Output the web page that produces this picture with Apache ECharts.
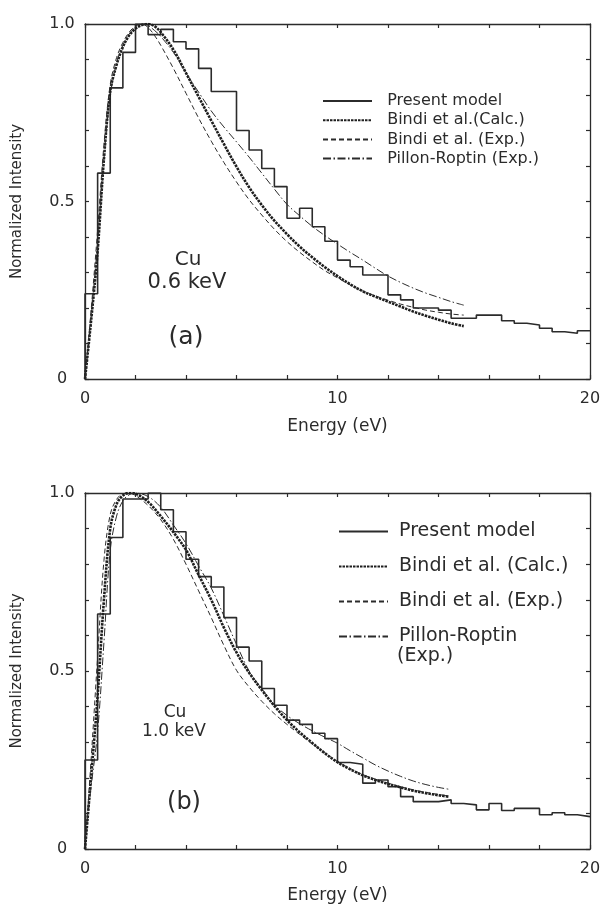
<!DOCTYPE html>
<html><head><meta charset="utf-8">
<script src="https://cdn.jsdelivr.net/npm/echarts@6/dist/echarts.min.js"></script>
<style>html,body{margin:0;background:#fff}#c{width:608px;height:906px}</style>
</head><body><div id="c"></div>
<script>
// ---------- data ----------
const histEdges = [0,0.5,1,1.5,2,2.5,3,3.5,4,4.5,5,5.5,6,6.5,7,7.5,8,8.5,9,9.5,10,10.5,11,11.5,12,12.5,13,13.5,14,14.5,15,15.5,16,16.5,17,17.5,18,18.5,19,19.5,20];
const topHist = [0.24,0.58,0.82,0.92,1.0,0.97,0.985,0.95,0.93,0.875,0.81,0.81,0.70,0.645,0.593,0.542,0.453,0.481,0.429,0.388,0.335,0.316,0.293,0.293,0.237,0.223,0.20,0.20,0.194,0.171,0.171,0.18,0.18,0.164,0.157,0.152,0.143,0.133,0.129,0.136];
const botHist = [0.25,0.66,0.875,0.983,0.983,1.0,0.953,0.891,0.814,0.765,0.736,0.65,0.567,0.528,0.451,0.404,0.362,0.35,0.325,0.31,0.243,0.238,0.185,0.194,0.175,0.147,0.133,0.133,0.138,0.128,0.124,0.11,0.128,0.108,0.114,0.114,0.096,0.102,0.096,0.091];

const topE = [0,0.25,0.5,0.75,1,1.25,1.5,1.75,2,2.25,2.5,2.75,3,3.5,4,4.5,5,5.5,6,6.5,7,7.5,8,8.5,9,9.5,10,10.5,11,11.5,12,12.5,13,13.5,14,14.5,15];
const topCalc = [0,0.17,0.36,0.62,0.81,0.885,0.935,0.968,0.987,0.997,1.0,0.994,0.977,0.928,0.862,0.795,0.728,0.662,0.598,0.54,0.49,0.446,0.408,0.373,0.343,0.315,0.29,0.267,0.247,0.232,0.218,0.204,0.19,0.178,0.167,0.157,0.149];
const topExp = [0,0.2,0.42,0.66,0.83,0.905,0.948,0.977,0.994,1.0,0.99,0.968,0.94,0.875,0.805,0.735,0.67,0.61,0.555,0.505,0.462,0.422,0.387,0.357,0.33,0.305,0.285,0.265,0.248,0.234,0.222,0.211,0.202,0.194,0.188,0.183,0.18];
const topPillon = [0,0.18,0.38,0.62,0.8,0.89,0.94,0.972,0.99,1.0,0.995,0.982,0.965,0.92,0.862,0.808,0.755,0.71,0.668,0.625,0.58,0.535,0.492,0.46,0.43,0.404,0.38,0.357,0.335,0.312,0.29,0.272,0.256,0.242,0.23,0.218,0.208];

const botE = [0,0.25,0.5,0.75,1,1.25,1.5,1.75,2,2.5,3,3.5,4,4.5,5,5.5,6,6.5,7,7.5,8,8.5,9,9.5,10,10.5,11,11.5,12,12.5,13,13.5,14,14.4];
const botCalc = [0,0.21,0.43,0.7,0.9,0.968,0.993,1.0,0.998,0.975,0.935,0.89,0.84,0.77,0.70,0.622,0.552,0.495,0.447,0.402,0.362,0.328,0.298,0.269,0.244,0.224,0.207,0.194,0.183,0.173,0.164,0.157,0.151,0.147];
const botExp = [0,0.26,0.54,0.81,0.94,0.982,0.998,1.0,0.993,0.965,0.925,0.87,0.80,0.725,0.65,0.572,0.502,0.455,0.415,0.38,0.35,0.322,0.295,0.27,0.246,0.226,0.209,0.196,0.185,0.175,0.166,0.159,0.153,0.149];
const botPillon = [0.03,0.18,0.33,0.58,0.84,0.935,0.978,0.995,1.0,0.99,0.96,0.91,0.858,0.795,0.733,0.655,0.575,0.50,0.45,0.405,0.375,0.352,0.332,0.314,0.297,0.276,0.256,0.236,0.219,0.204,0.191,0.181,0.173,0.168];

const xTicks = [0,10,20];
const yTicks = {0:'0',0.5:'0.5',1:'1.0'};

const topNames = ['Present model','Bindi et al.(Calc.)','Bindi et al. (Exp.)','Pillon-Roptin (Exp.)'];
const botNames = ['Present model','Bindi et al. (Calc.)','Bindi et al. (Exp.)','Pillon-Roptin'];

// ---------- styling ----------
const FONT = 'DejaVu Sans';
const INK = '#2b2b2b';

function histData(vals){
  const d = [[histEdges[0],0]];
  vals.forEach((v,i)=>d.push([histEdges[i],v]));
  d.push([histEdges[histEdges.length-1], vals[vals.length-1]]);
  return d;
}
function pairs(xs, ys){ return xs.map((x,i)=>[x,ys[i]]); }

function xAxes(g, gap){
  const base = {gridIndex:g, type:'value', min:0, max:20, interval:2,
    axisLine:{onZero:false, lineStyle:{color:INK,width:1.3}},
    axisTick:{inside:true,length:4,lineStyle:{color:INK,width:1.2}},
    splitLine:{show:false}};
  return [
    Object.assign({}, base, {position:'bottom',
      axisLabel:{formatter:v=>xTicks.includes(v)?String(v):'', color:INK, fontFamily:FONT, fontSize:16, margin:12, showMinLabel:true, showMaxLabel:true},
      name:'Energy (eV)', nameLocation:'middle', nameGap:gap,
      nameTextStyle:{color:INK, fontFamily:FONT, fontSize:17}}),
    Object.assign({}, base, {position:'top', axisLabel:{show:false}})
  ];
}
function yLabel(v){
  for (const k in yTicks){ if (Math.abs(v-Number(k))<1e-6) return yTicks[k]; }
  return '';
}
function yAxes(g){
  const base = {gridIndex:g, type:'value', min:0, max:1, interval:0.1,
    axisLine:{show:true,onZero:false, lineStyle:{color:INK,width:1.3}},
    axisTick:{show:true,inside:true,length:4,lineStyle:{color:INK,width:1.2}},
    splitLine:{show:false}};
  return [
    Object.assign({}, base, {position:'left',
      axisLabel:{formatter:yLabel, color:INK, fontFamily:FONT, fontSize:16, margin:23, align:'center', showMinLabel:true, showMaxLabel:true},
      name:'Normalized Intensity', nameLocation:'middle', nameGap:60,
      nameTextStyle:{color:INK, fontFamily:FONT, fontSize:15}}),
    Object.assign({}, base, {position:'right', axisLabel:{show:false}})
  ];
}

function panelSeries(g, names, hist, E, calc, exp, pil){
  const common = {type:'line', xAxisIndex:g*2, yAxisIndex:g*2, symbol:'none', showSymbol:false,
    silent:true, animation:false, emphasis:{disabled:true}};
  return [
    Object.assign({}, common, {name:names[0], step:'end', data:histData(hist),
      lineStyle:{color:INK,width:1.6}, itemStyle:{color:INK}}),
    Object.assign({}, common, {name:names[1], smooth:0.35, data:pairs(E,calc),
      lineStyle:{color:'#1e1e1e',width:2.6,type:[2.5,1]}, itemStyle:{color:'#1e1e1e'}}),
    Object.assign({}, common, {name:names[2], smooth:0.35, data:pairs(E,exp),
      lineStyle:{color:INK,width:1,type:[5,3]}, itemStyle:{color:INK}}),
    Object.assign({}, common, {name:names[3], smooth:0.35, data:pairs(E,pil),
      lineStyle:{color:INK,width:1,type:[8,2.5,1.5,2.5]}, itemStyle:{color:INK}})
  ];
}

const txt = (x,y,t,size)=>({type:'text', x:x, y:y, silent:true,
  style:{text:t, fill:INK, font:size+'px "'+FONT+'"', textAlign:'center', textVerticalAlign:'middle'}});

const chart = echarts.init(document.getElementById('c'), null, {renderer:'canvas'});
chart.setOption({
  backgroundColor:'#ffffff',
  animation:false,
  grid:[
    {left:85, top:24, width:505, height:355},
    {left:85, top:493, width:505, height:356}
  ],
  xAxis: xAxes(0, 39).concat(xAxes(1, 38)),
  yAxis: yAxes(0).concat(yAxes(1)),
  legend:[
    {left:322, top:93, padding:0, orient:'vertical', itemWidth:49, itemHeight:10, itemGap:3.2,
     selectedMode:false, data:topNames, formatter:n=>'  '+n,
     itemStyle:{opacity:0, borderWidth:0},
     textStyle:{color:INK, fontFamily:FONT, fontSize:16}},
    {left:338, top:522, padding:0, orient:'vertical', itemWidth:49, itemHeight:10, itemGap:16,
     selectedMode:false, data:botNames, formatter:n=>' '+n,
     itemStyle:{opacity:0, borderWidth:0},
     textStyle:{color:INK, fontFamily:FONT, fontSize:19}}
  ],
  graphic:[
    txt(188,260,'Cu',20), txt(187,282.5,'0.6 keV',21), txt(186,337,'(a)',25),
    txt(175,712.5,'Cu',17), txt(174,732,'1.0 keV',17), txt(184,803,'(b)',24),
    {type:'text', x:397, y:656, silent:true,
     style:{text:'(Exp.)', fill:INK, font:'19px "'+FONT+'"', textAlign:'left', textVerticalAlign:'middle'}}
  ],
  series: panelSeries(0, topNames, topHist, topE, topCalc, topExp, topPillon)
    .concat(panelSeries(1, botNames, botHist, botE, botCalc, botExp, botPillon))
});
</script></body></html>
